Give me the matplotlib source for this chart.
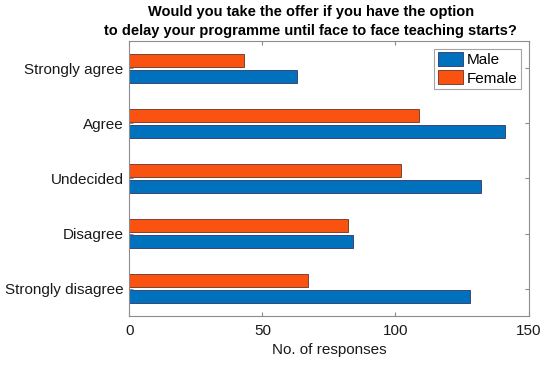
import matplotlib
matplotlib.use("Agg")
import matplotlib.pyplot as plt
import numpy as np

plt.rcParams['font.family'] = ['Liberation Sans', 'DejaVu Sans']

categories = ["Strongly agree", "Agree", "Undecided", "Disagree", "Strongly disagree"]
male = [63, 141, 132, 84, 128]
female = [43, 109, 102, 82, 67]
xticks = [0, 50, 100, 150]

fig = plt.figure(figsize=(5.5, 3.65), dpi=100)
ax = fig.add_axes([0.235, 0.134, 0.726, 0.754])

n = len(categories)
y = np.arange(n)
h = 0.24
off = 0.145
ax.barh(y + off, male, height=h, color='#0072BD', edgecolor='#333366', linewidth=0.6, label='Male')
ax.barh(y - off, female, height=h, color='#FA5210', edgecolor='#663322', linewidth=0.6, label='Female')

ax.set_ylim(n - 0.5, -0.5)
ax.set_xlim(0, 150)
ax.set_yticks(y)
ax.set_yticklabels(categories, fontsize=11)
ax.set_xticks(xticks)
ax.set_xticklabels([str(t) for t in xticks], fontsize=11)
ax.tick_params(direction='in', top=True, right=True, length=3, color='#8c8c8c', labelcolor='#1a1a1a')
ax.tick_params(axis='x', pad=6)
ax.tick_params(axis='y', pad=4)
for s in ax.spines.values():
    s.set_color('#8c8c8c')
    s.set_linewidth(0.8)

ax.set_xlabel("No. of responses", fontsize=11, color='#1a1a1a', labelpad=3)
fig.text(0.565, 0.895,
         "Would you take the offer if you have the option\nto delay your programme until face to face teaching starts?",
         ha='center', va='bottom', fontsize=10.5, fontweight='bold', linespacing=1.45)

leg = ax.legend(loc='upper right', fontsize=11, frameon=True, fancybox=False,
                edgecolor='#8c8c8c', handlelength=1.65, handleheight=1.0,
                handletextpad=0.2, borderpad=0.25, labelspacing=0.2, borderaxespad=0.5)
leg.get_frame().set_linewidth(0.8)

fig.savefig("out.png", dpi=100)
